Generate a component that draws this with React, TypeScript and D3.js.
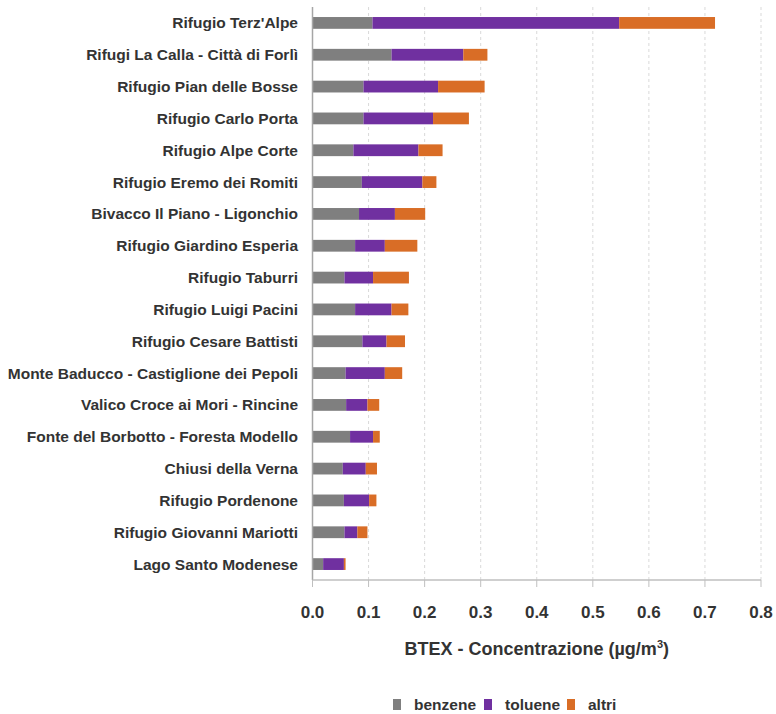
import React from "react";
import * as d3 from "d3";

const categories = [
  "Rifugio Terz'Alpe",
  "Rifugi La Calla - Città di Forlì",
  "Rifugio Pian delle Bosse",
  "Rifugio Carlo Porta",
  "Rifugio Alpe Corte",
  "Rifugio Eremo dei Romiti",
  "Bivacco Il Piano - Ligonchio",
  "Rifugio Giardino Esperia",
  "Rifugio Taburri",
  "Rifugio Luigi Pacini",
  "Rifugio Cesare Battisti",
  "Monte Baducco - Castiglione dei Pepoli",
  "Valico Croce ai Mori - Rincine",
  "Fonte del Borbotto - Foresta Modello",
  "Chiusi della Verna",
  "Rifugio Pordenone",
  "Rifugio Giovanni Mariotti",
  "Lago Santo Modenese",
];
const benzene = [0.107, 0.141, 0.091, 0.091, 0.073, 0.088, 0.083, 0.076, 0.057, 0.076, 0.089, 0.059, 0.06, 0.067, 0.054, 0.056, 0.057, 0.019];
const toluene = [0.44, 0.128, 0.133, 0.124, 0.116, 0.108, 0.064, 0.053, 0.051, 0.065, 0.043, 0.07, 0.038, 0.041, 0.041, 0.045, 0.023, 0.037];
const altri = [0.171, 0.043, 0.083, 0.064, 0.043, 0.025, 0.054, 0.058, 0.064, 0.03, 0.033, 0.031, 0.021, 0.012, 0.02, 0.013, 0.018, 0.003];
const seriesNames = ["benzene", "toluene", "altri"];
const seriesColors = ["#7f7f7f", "#7030a0", "#d96d26"];
const xTicks = [0, 0.1, 0.2, 0.3, 0.4, 0.5, 0.6, 0.7, 0.8];
const xTitle = "BTEX - Concentrazione (µg/m";

const W = 776;
const H = 714;
const FONT = "'Liberation Sans', Arial, sans-serif";
const TEXT = "#333";

export default function App() {
  const left = 312.5;
  const right = 761;
  const top = 7;
  const bottom = 580;
  const x = d3.scaleLinear().domain([0, 0.8]).range([left, right]);
  const y = d3.scaleBand<string>().domain(categories).range([top, bottom]).paddingInner(0.63).paddingOuter(0.315);

  const rows = categories.map((c, i) => ({ cat: c, benzene: benzene[i], toluene: toluene[i], altri: altri[i] }));
  const stack = d3.stack<any>().keys(seriesNames)(rows);

  const legendX = [393, 484, 567];

  return (
    <svg width={W} height={H} style={{ position: "absolute", left: 0, top: 0, background: "#fff" }} fontFamily={FONT}>
      {/* grid */}
      {xTicks.slice(1).map((t) => (
        <line key={"g" + t} x1={x(t)} x2={x(t)} y1={top} y2={bottom} stroke="#d9d9d9" strokeDasharray="3,3" strokeWidth={1} />
      ))}
      {/* bars */}
      {stack.map((s, si) => (
        <g key={seriesNames[si]} fill={seriesColors[si]}>
          {s.map((d, i) => (
            <rect key={i} x={x(d[0])} width={x(d[1]) - x(d[0])} y={y(categories[i])} height={y.bandwidth()} />
          ))}
        </g>
      ))}
      {/* axes */}
      <line x1={left} x2={left} y1={top} y2={bottom} stroke="#a6a6a6" strokeWidth={1.5} />
      <line x1={left} x2={right} y1={bottom} y2={bottom} stroke="#bfbfbf" strokeWidth={1.5} />
      {xTicks.map((t) => (
        <g key={"t" + t}>
          <line x1={x(t)} x2={x(t)} y1={bottom} y2={bottom + 7} stroke="#bfbfbf" strokeWidth={1} />
          <text x={x(t)} y={bottom + 38} textAnchor="middle" fontSize={17} fontWeight="bold" fill={TEXT}>
            {d3.format(".1f")(t)}
          </text>
        </g>
      ))}
      {categories.map((c) => (
        <text key={c} x={298} y={(y(c) as number) + y.bandwidth() / 2} dy="0.35em" textAnchor="end" fontSize={15.5} fontWeight="bold" fill={TEXT}>
          {c}
        </text>
      ))}
      <text x={(left + right) / 2} y={655} textAnchor="middle" fontSize={18} fontWeight="bold" fill={TEXT}>
        {xTitle}
        <tspan dy={-7} fontSize={11}>3</tspan>
        <tspan dy={7}>)</tspan>
      </text>
      {/* legend */}
      {seriesNames.map((n, i) => {
        const lx = legendX[i];
        return (
          <g key={n}>
            <rect x={lx} y={699} width={8} height={11} fill={seriesColors[i]} />
            <text x={lx + 21} y={710} fontSize={15.5} fontWeight="bold" fill={TEXT}>{n}</text>
          </g>
        );
      })}
    </svg>
  );
}
